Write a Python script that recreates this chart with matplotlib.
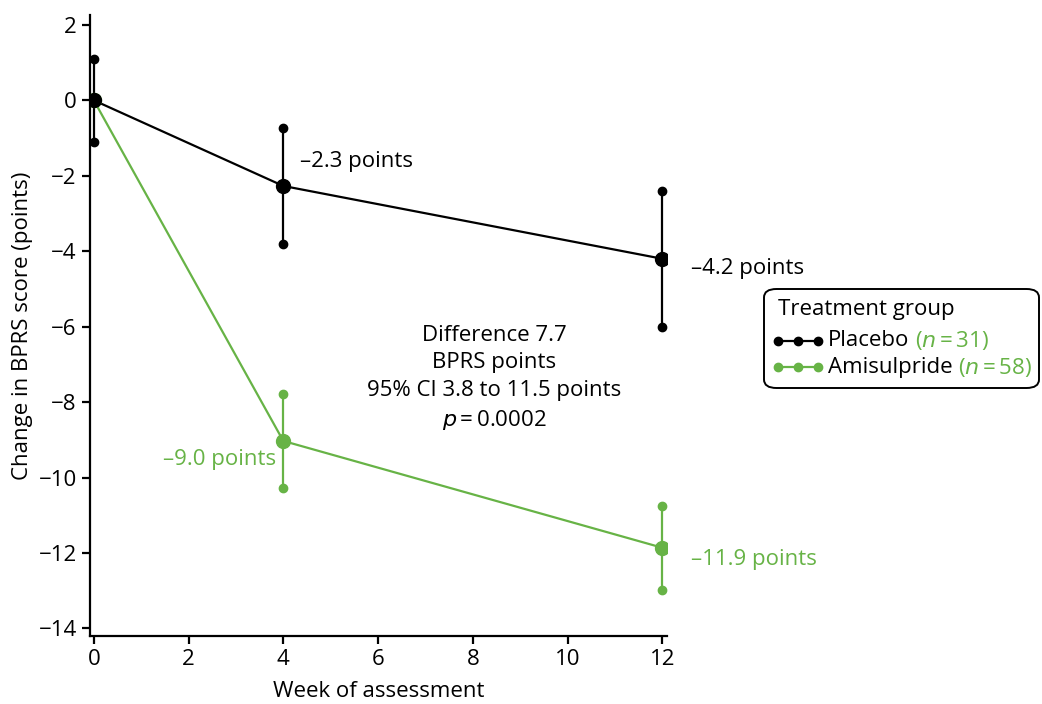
import numpy as np
import matplotlib.pyplot as plt
from matplotlib.lines import Line2D
from matplotlib.patches import FancyBboxPatch
from matplotlib.text import Annotation

plt.rcParams['font.family'] = ['Open Sans', 'DejaVu Sans']

# Дані: тижні оцінювання, середня зміна BPRS і межі 95% ДІ
weeks = [0, 4, 12]
placebo_mean = [0.0, -2.27, -4.2]
placebo_lo = [-1.1, -3.82, -6.0]
placebo_hi = [1.1, -0.74, -2.4]
amis_mean = [0.0, -9.03, -11.86]
amis_lo = [0.0, -10.28, -12.97]
amis_hi = [0.0, -7.79, -10.75]

group_names = ['Placebo', 'Amisulpride']
group_n = ['($n$\u2009=\u200931)', '($n$\u2009=\u200958)']
end_labels_placebo = ['\u20132.3 points', '\u20134.2 points']
end_labels_amis = ['\u20139.0 points', '\u201311.9 points']
diff_text = 'Difference 7.7\nBPRS points\n95% CI 3.8 to 11.5 points\n$p$\u2009=\u20090.0002'

black = '#000000'
green = '#67b346'
fs = 16

fig = plt.figure(figsize=(10.42, 7.04), dpi=100)
ax = fig.add_axes([0.0864, 0.0966, 0.5537, 0.882])


def draw_group(mean, lo, hi, color, skip_first_bar=False):
    ax.plot(weeks, mean, color=color, linewidth=1.6, zorder=2)
    for i, w in enumerate(weeks):
        if skip_first_bar and i == 0:
            continue
        ax.plot([w, w], [lo[i], hi[i]], color=color, linewidth=1.6, zorder=2)
        ax.plot([w, w], [lo[i], hi[i]], 'o', color=color, markersize=6, zorder=3)
    ax.plot(weeks, mean, 'o', color=color, markersize=10, zorder=4)


draw_group(amis_mean, amis_lo, amis_hi, green, skip_first_bar=True)
draw_group(placebo_mean, placebo_lo, placebo_hi, black)

ax.set_xlim(-0.08, 12.1)
ax.set_ylim(-14.2, 2.26)
ax.set_xticks(np.arange(0, 13, 2))
ax.set_yticks(np.arange(-14, 3, 2))
for s in ['top', 'right']:
    ax.spines[s].set_visible(False)
for s in ['left', 'bottom']:
    ax.spines[s].set_linewidth(1.6)
ax.tick_params(labelsize=fs, width=1.6, length=6)
ax.set_xlabel('Week of assessment', fontsize=fs, labelpad=8)
ax.set_ylabel('Change in BPRS score (points)', fontsize=fs, labelpad=4)

# Підписи значень
ax.text(4.35, placebo_mean[1] + 0.65, end_labels_placebo[0], fontsize=fs, color=black, va='center')
ax.text(12.6, placebo_mean[2] - 0.25, end_labels_placebo[1], fontsize=fs, color=black, va='center')
ax.text(3.85, amis_mean[1] - 0.5, end_labels_amis[0], fontsize=fs, color=green, va='center', ha='right')
ax.text(12.6, amis_mean[2] - 0.3, end_labels_amis[1], fontsize=fs, color=green, va='center')
ax.text(8.45, -7.37, diff_text, fontsize=fs, ha='center', va='center', linespacing=1.4)

# Легенда вручну (щоб частина тексту була зеленою)
W, H = 1042, 704
box = FancyBboxPatch((764 / W, 1 - 388 / H), 275 / W, 99 / H,
                     boxstyle='round,pad=0,rounding_size=0.012',
                     transform=fig.transFigure, facecolor='white',
                     edgecolor=black, linewidth=1.4, zorder=5)
fig.add_artist(box)
fig.text(778 / W, 1 - 309 / H, 'Treatment group', fontsize=fs, va='center', zorder=6)
rows_y = [341, 367]
colors = [black, green]
for name, n_txt, yy, c in zip(group_names, group_n, rows_y, colors):
    yf = 1 - yy / H
    fig.add_artist(Line2D([778 / W, 798 / W, 818 / W], [yf, yf, yf], color=c,
                          linewidth=1.6, marker='o', markersize=6,
                          transform=fig.transFigure, zorder=6))
    t = fig.text(828 / W, yf, name, fontsize=fs, va='center', zorder=6)
    a = Annotation(n_txt, xy=(1, 0.5), xycoords=t, xytext=(4, 0),
                   textcoords='offset points', fontsize=fs, color=green,
                   va='center', zorder=6)
    fig.add_artist(a)

fig.savefig('out.png', dpi=100)
